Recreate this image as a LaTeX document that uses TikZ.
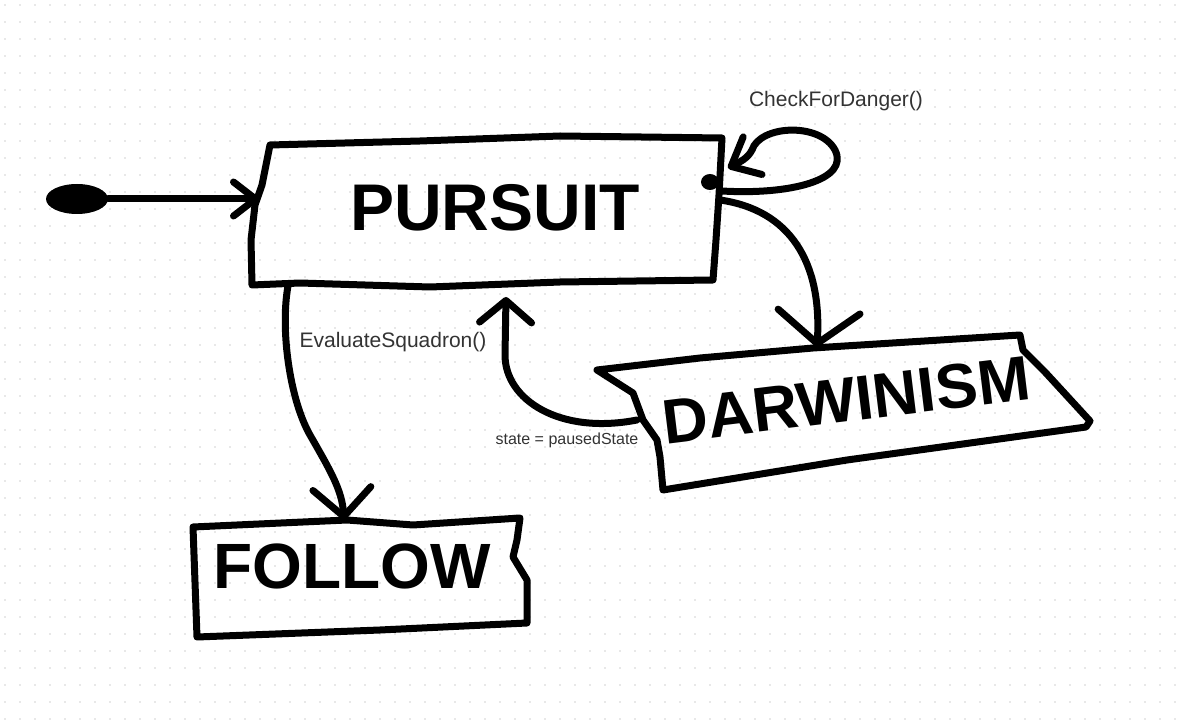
\documentclass[tikz,border=0pt]{standalone}
\usepackage{fontspec}
\setmainfont{Liberation Sans}
\usetikzlibrary{arrows.meta,shapes.geometric}
\definecolor{dotc}{HTML}{E8E8E8}
\definecolor{labc}{HTML}{333333}
\tikzset{
  ink/.style={draw=black, line width=7pt, line cap=round, line join=round},
  hand/.style={font=\bfseries\fontsize{#1}{#1}\selectfont, inner sep=0pt},
  lab/.style={text=labc, font=\fontsize{#1}{#1}\selectfont, inner sep=0pt},
  barb/.style n args={2}{-{Straight Barb[round, length=#1pt, width=#2pt]}},
  startdot/.style={ellipse, fill=black, draw=none, minimum width=62pt, minimum height=30pt, inner sep=0pt}
}
\begin{document}
\begin{tikzpicture}[x=1pt, y=-1pt]
\useasboundingbox (0,0) rectangle (1179,727);
\fill[white] (0,0) rectangle (1179,727);
% dotted grid
\foreach \i in {0,...,78}{
  \foreach \j in {0,...,42}{
    \fill[dotc] ({4+15*\i},{4+17*\j}) rectangle ++(2,2);
  }
}
% ---------- PURSUIT box ----------
\draw[ink] (270,145) -- (420,141) -- (560,136) -- (722,138) -- (719,195) -- (716,240) -- (713,280)
  -- (560,282) -- (430,287) -- (300,283) -- (252,285) -- (251,240) -- (255,205) -- (262,185) -- cycle;
\node[hand=66] (pursuit) at (495,208) {PURSUIT};
\fill (710,182) ellipse [x radius=9, y radius=8];
% ---------- DARWINISM box ----------
\draw[ink] (597,370) -- (700,358) -- (813,348) -- (1020,335) -- (1023,350) -- (1045,372) -- (1090,421)
  -- (1086,427) -- (847,460) -- (663,490) -- (660,457) -- (657,440) -- (643,420) -- (633,393) -- cycle;
\node[hand=63, rotate=7] (darwinism) at (846,400) {DARWINISM};
% ---------- FOLLOW box ----------
\draw[ink] (193,527) -- (347,520) -- (413,525) -- (520,518) -- (517,540) -- (513,557) -- (527,580)
  -- (527,623) -- (380,630) -- (197,637) -- cycle;
\node[hand=64] (follow) at (352,566) {FOLLOW};
% ---------- connection points ----------
\node[startdot] (start) at (77,199) {};
\coordinate (pin) at (259,199);
\coordinate (loopA) at (722,191);
\coordinate (loopB) at (728,168);
\coordinate (pdA) at (720,200);
\coordinate (dtop) at (817,347);
\coordinate (dpA) at (637,420);
\coordinate (ptip) at (506,297);
\coordinate (pfA) at (288,286);
\coordinate (ftop) at (344,520);
% ---------- connectors ----------
\draw[ink, barb={22}{34}] (start.east) -- (pin);
\draw[ink, barb={24}{42}] (loopA) .. controls (790,195) and (850,180) .. (835,150)
   .. controls (820,122) and (760,125) .. (752,150) .. controls (748,158) and (740,162) .. (loopB);
\draw[ink, barb={32}{82}] (pdA) .. controls (790,210) and (822,262) .. (dtop);
\draw[ink, barb={22}{52}] (dpA) .. controls (560,435) and (505,400) .. (505,355) -- (ptip);
\draw[ink, barb={28}{58}] (pfA) .. controls (280,330) and (290,400) .. (310,435) .. controls (330,470) and (342,490) .. (ftop);
% ---------- labels ----------
\node[lab=21] (l1) at (836,101) {CheckForDanger()};
\node[lab=21] (l2) at (393,342) {EvaluateSquadron()};
\node[lab=16] (l3) at (567,440) {state = pausedState};
\end{tikzpicture}
\end{document}
